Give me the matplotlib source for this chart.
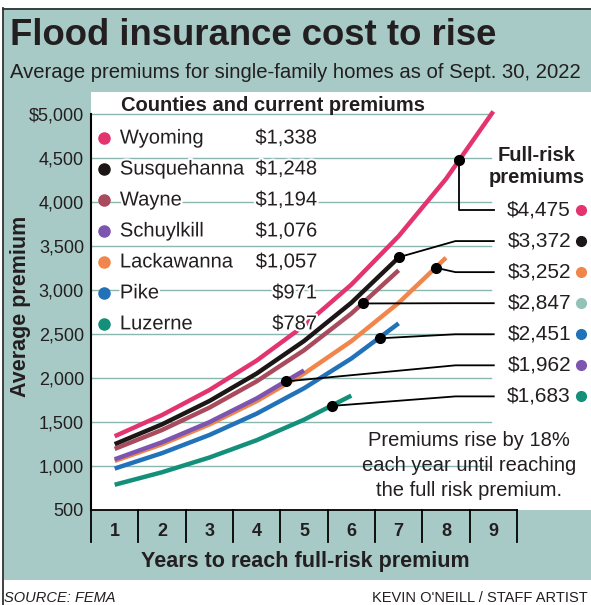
import matplotlib
matplotlib.use("Agg")
import matplotlib.pyplot as plt
from matplotlib import patheffects
from matplotlib.patches import Rectangle
from matplotlib.lines import Line2D

counties = ["Wyoming", "Susquehanna", "Wayne", "Schuylkill", "Lackawanna", "Pike", "Luzerne"]
current = [1338, 1248, 1194, 1076, 1057, 971, 787]
full_risk = [4475, 3372, 2847, 1962, 3252, 2451, 1683]
# year where each curve hits its full-risk premium (black dot)
dot_year = [8.28, 7.0, 6.25, 4.63, 7.79, 6.6, 5.59]

years = [1, 2, 3, 4, 5, 6, 7, 8, 9]
wyoming = [1338, 1579, 1863, 2198, 2594, 3061, 3612, 4262, 5029]
susquehanna = [1248, 1473, 1738, 2051, 2420, 2855, 3369]
wayne = [1194, 1409, 1663, 1962, 2315, 2732, 3224]
schuylkill = [1076, 1270, 1498, 1768, 2086]
lackawanna = [1057, 1247, 1472, 1737, 2049, 2418, 2854, 3367]
pike = [971, 1146, 1352, 1595, 1883, 2221, 2621]
luzerne = [787, 929, 1096, 1293, 1526, 1800]

y_ticks = [500, 1000, 1500, 2000, 2500, 3000, 3500, 4000, 4500, 5000]
y_tick_labels = ["500", "1,000", "1,500", "2,000", "2,500", "3,000", "3,500", "4,000", "4,500", "$5,000"]

# --- STYLE ---
line_colors = ["#e3346f", "#1d1616", "#a94a5d", "#7d55b0", "#f0864c", "#2172b9", "#14907a"]
right_marker_colors = ["#e3346f", "#1d1616", "#93c2b6", "#7d55b0", "#f0864c", "#2172b9", "#14907a"]
TEAL = "#a7cac6"
GRID = "#8cb6b0"
INK = "#231f20"

plt.rcParams["font.family"] = ["Liberation Sans", "DejaVu Sans"]

W, H = 591, 605
PX_X = 47.33   # pixels per year
PX_Y = 0.088   # pixels per dollar


def draw_chart():
    fig = plt.figure(figsize=(W / 100, H / 100), dpi=100)
    fig.patch.set_facecolor("white")

    # teal panel + black frame on top/left
    fig.patches.append(Rectangle((3 / W, (H - 580) / H), (W - 3) / W, 572 / H,
                                 transform=fig.transFigure, facecolor=TEAL,
                                 edgecolor="none", zorder=-10))
    fig.lines.append(Line2D([3 / W, 3 / W], [0, 1 - 8 / H], transform=fig.transFigure,
                            color="#333333", lw=1.3))
    fig.lines.append(Line2D([3 / W, 1], [1 - 9 / H, 1 - 9 / H], transform=fig.transFigure,
                            color="#333333", lw=1.3))

    ax = fig.add_axes([91 / W, (H - 510) / H, 500 / W, 418 / H])
    ax.set_facecolor("white")
    ax.set_xlim(0.5, 0.5 + 500 / PX_X)
    ax.set_ylim(500, 500 + 418 / PX_Y)
    for s in ax.spines.values():
        s.set_visible(False)

    ax.set_yticks(y_ticks, y_tick_labels)
    ax.tick_params(axis="y", length=0, pad=5, labelsize=13, labelcolor=INK)
    ax.set_xticks(years, [str(y) for y in years])
    ax.tick_params(axis="x", length=0, pad=9, labelsize=13, labelcolor=INK)
    for lbl in ax.get_xticklabels():
        lbl.set_fontweight("bold")

    # grid lines
    for v in y_ticks[1:]:
        ax.plot([0.5, 8.95], [v, v], color=GRID, lw=1.0, zorder=1)

    # axis lines and year dividers
    ax.plot([0.5, 0.5], [500, 5000], color="black", lw=1.5, clip_on=False, zorder=5)
    ax.plot([0.5, 9.5], [500, 500], color="black", lw=1.3, clip_on=False, zorder=5)
    band_low = 500 - 32 / PX_Y
    for b in [y - 0.5 for y in years] + [years[-1] + 0.5]:
        ax.plot([b, b], [500, band_low], color="black", lw=1.3, clip_on=False, zorder=5)

    # curves
    series = [wyoming, susquehanna, wayne, schuylkill, lackawanna, pike, luzerne]
    for vals, col in reversed(list(zip(series, line_colors))):
        ax.plot(years[:len(vals)], vals, color=col, lw=3.2, solid_capstyle="butt", zorder=3)

    # full-risk labels, leaders and dots
    order = sorted(range(len(counties)), key=lambda i: -full_risk[i])
    for rank, i in enumerate(order):
        ly = 3909 - rank * 353
        dx, dy = dot_year[i], full_risk[i]
        bend = dx if rank == 0 else 8.2
        ax.plot([dx, bend, 9.01], [dy, ly, ly], color="black", lw=1.3, zorder=4)
        ax.plot(dx, dy, "o", color="black", ms=7, zorder=6)
        ax.text(10.64, ly, f"${full_risk[i]:,}", ha="right", va="center",
                fontsize=15, color=INK, clip_on=False)
        ax.plot(10.85, ly, "o", color=right_marker_colors[i], ms=7, clip_on=False)

    ax.text(9.92, 4534, "Full-risk", ha="center", va="center", fontsize=14.5,
            fontweight="bold", color=INK)
    ax.text(9.92, 4284, "premiums", ha="center", va="center", fontsize=14.5,
            fontweight="bold", color=INK)

    # legend box (counties and current premiums)
    halo = [patheffects.withStroke(linewidth=3, foreground="white")]
    ax.text(1.13, 5102, "Counties and current premiums", va="center", fontsize=14.5,
            fontweight="bold", color=INK, zorder=7)
    for i, name in enumerate(counties):
        y = 4727 - i * 352
        ax.plot(0.775, y, "o", color=line_colors[i], ms=8, zorder=7)
        ax.text(1.11, y, name, va="center", fontsize=14.5, color=INK,
                path_effects=halo, zorder=7)
        ax.text(5.275, y, f"${current[i]:,}", ha="right", va="center", fontsize=14.5,
                color=INK, path_effects=halo, zorder=7)

    # note
    for k, line in enumerate(["Premiums rise by 18%", "each year until reaching",
                              "the full risk premium."]):
        ax.text(8.49, 1295 - k * 284, line, ha="center", va="center", fontsize=14.5,
                color=INK, zorder=7)

    # titles and labels
    fig.text(10 / W, 1 - 45 / H, "Flood insurance cost to rise", fontsize=26.3,
             fontweight="bold", color=INK, va="baseline")
    fig.text(10 / W, 1 - 78 / H, "Average premiums for single-family homes as of Sept. 30, 2022",
             fontsize=14.6, color=INK, va="baseline")
    fig.text(305 / W, 1 - 562 / H, "Years to reach full-risk premium", ha="center",
             va="center", fontsize=15.5, fontweight="bold", color=INK)
    fig.text(21 / W, 1 - 306 / H, "Average premium", ha="center", va="center",
             rotation=90, fontsize=15.5, fontweight="bold", color=INK)
    fig.text(4 / W, 1 - 602 / H, "SOURCE: FEMA", fontsize=10.5, style="italic",
             color=INK, va="baseline")
    fig.text(588 / W, 1 - 602 / H, "KEVIN O'NEILL / STAFF ARTIST", fontsize=10.5,
             color=INK, va="baseline", ha="right")

    fig.savefig("out.png", dpi=100)


if __name__ == "__main__":
    draw_chart()
